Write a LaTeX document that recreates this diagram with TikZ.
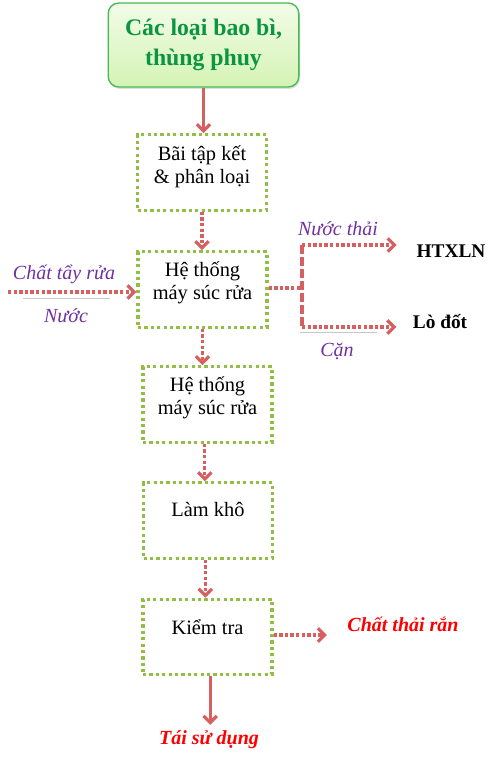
\documentclass[tikz,border=0pt]{standalone}
\usepackage{fontspec}
\setmainfont{Liberation Serif}
\usetikzlibrary{arrows.meta,shadows}

\definecolor{arrowred}{RGB}{214,96,96}
\definecolor{dotgreen}{RGB}{146,190,70}
\definecolor{titlegreen}{RGB}{10,150,65}
\definecolor{edgegreen}{RGB}{70,185,80}
\definecolor{inkpurple}{RGB}{112,48,160}

\newcommand{\boxtext}[2]{\raisebox{#1}[0pt][0pt]{\begin{tabular}{@{}c@{}}#2\end{tabular}}}

\tikzset{
  titlebox/.style={draw=edgegreen, line width=1pt, rounded corners=8pt,
    top color={rgb,255:red,242;green,252;blue,232}, bottom color={rgb,255:red,212;green,243;blue,180},
    drop shadow={opacity=0.25, shadow xshift=1pt, shadow yshift=-1.5pt},
    minimum width=143pt, minimum height=63pt, align=center, text=titlegreen,
    font=\fontsize{17.8}{22.5}\selectfont\bfseries},
  stepbox/.style={draw=dotgreen, line width=2.4pt, dash pattern=on 2.4pt off 2.4pt,
    minimum width=96.75pt, minimum height=56.5pt, inner sep=0pt,
    font=\fontsize{15.3}{17.25}\selectfont},
  flow/.style={draw=arrowred, line width=2.4pt, -{Straight Barb[length=5pt,width=10pt]}},
  dotflow/.style={flow, dash pattern=on 2.6pt off 1.6pt},
  dotline/.style={draw=arrowred, line width=2.4pt, dash pattern=on 2.6pt off 1.6pt},
  dashline/.style={draw=arrowred, line width=2.4pt, dash pattern=on 7pt off 2pt},
  note/.style={anchor=base, inner sep=0.75pt, text=inkpurple, font=\fontsize{15}{17}\selectfont\itshape},
  target/.style={anchor=base, inner sep=0.75pt, font=\fontsize{14.5}{17}\selectfont\bfseries},
  result/.style={anchor=base, inner sep=0.75pt, text=red, font=\fontsize{15}{17}\selectfont\bfseries\itshape},
  rule/.style={draw={rgb,255:red,200;green,200;blue,200}, line width=0.6pt}
}

\begin{document}
\begin{tikzpicture}[x=0.75pt,y=0.75pt,yscale=-1,xscale=1]
	\useasboundingbox (0,0) rectangle (500,768);
	% process boxes
	\node[titlebox] (src) at (203.5,45) {Các loại bao bì,\\thùng phuy};
	\node[stepbox] (yard) at (202,172.5) {\boxtext{0pt}{Bãi tập kết\\\& phân loại}};
	\node[stepbox] (wash) at (202.5,289.5) {\boxtext{0.75pt}{Hệ thống\\máy súc rửa}};
	\node[stepbox] (rinse) at (207.5,404.5) {\boxtext{0.75pt}{Hệ thống\\máy súc rửa}};
	\node[stepbox] (dry) at (208,520.5) {\boxtext{2.5pt}{Làm khô}};
	\node[stepbox] (check) at (207.5,637) {\boxtext{1.5pt}{Kiểm tra}};
	% side texts
	\node[note] (agent) at (64,279) {Chất tẩy rửa};
	\node[note] (water) at (66,322) {Nước};
	\node[note] (waste) at (338,235) {Nước thải};
	\node[note] (sludge) at (337,356) {Cặn};
	\node[target] (htxln) at (451,257) {HTXLN};
	\node[target] (kiln) at (440,328) {Lò đốt};
	\node[result] (solid) at (403,631) {Chất thải rắn};
	\node[result] (reuse) at (209,744) {Tái sử dụng};
	% junctions
	\coordinate (feed) at (8,292);
	\coordinate (split) at (302,288);
	\coordinate (splitup) at (302,245);
	\coordinate (splitdn) at (302,327);
	% main line
	\draw[flow] (src.south) -- (src.south |- yard.north);
	\draw[dotflow] (yard.south) -- (yard.south |- wash.north);
	\draw[dotflow] (wash.south) -- (wash.south |- rinse.north);
	\draw[dotflow] ([xshift=-2pt]rinse.south) -- ([xshift=-2pt]rinse.south |- dry.north);
	\draw[dotflow] ([xshift=-2pt]dry.south) -- ([xshift=-2pt]dry.south |- check.north);
	\draw[flow, shorten >=3pt] ([xshift=2pt]check.south) -- ([xshift=2pt]check.south |- reuse.north);
	% inputs and outputs
	\draw[dotflow] (feed) -- (feed -| wash.west);
	\draw[dotline] (wash.east |- split) -- (split);
	\draw[dashline] (splitup) -- (splitdn);
	\draw[dotflow, shorten >=14pt] (splitup) -- (splitup -| htxln.west);
	\draw[dotflow, shorten >=11.5pt] (splitdn) -- (splitdn -| kiln.west);
	\draw[dotflow, shorten >=14.5pt] ([yshift=-1.5pt]check.east) -- ([yshift=-1.5pt]check.east -| solid.west);
	\draw[rule] (23,298) -- (110,298);
	\draw[rule] (300,332) -- (377,332);
\end{tikzpicture}
\end{document}
